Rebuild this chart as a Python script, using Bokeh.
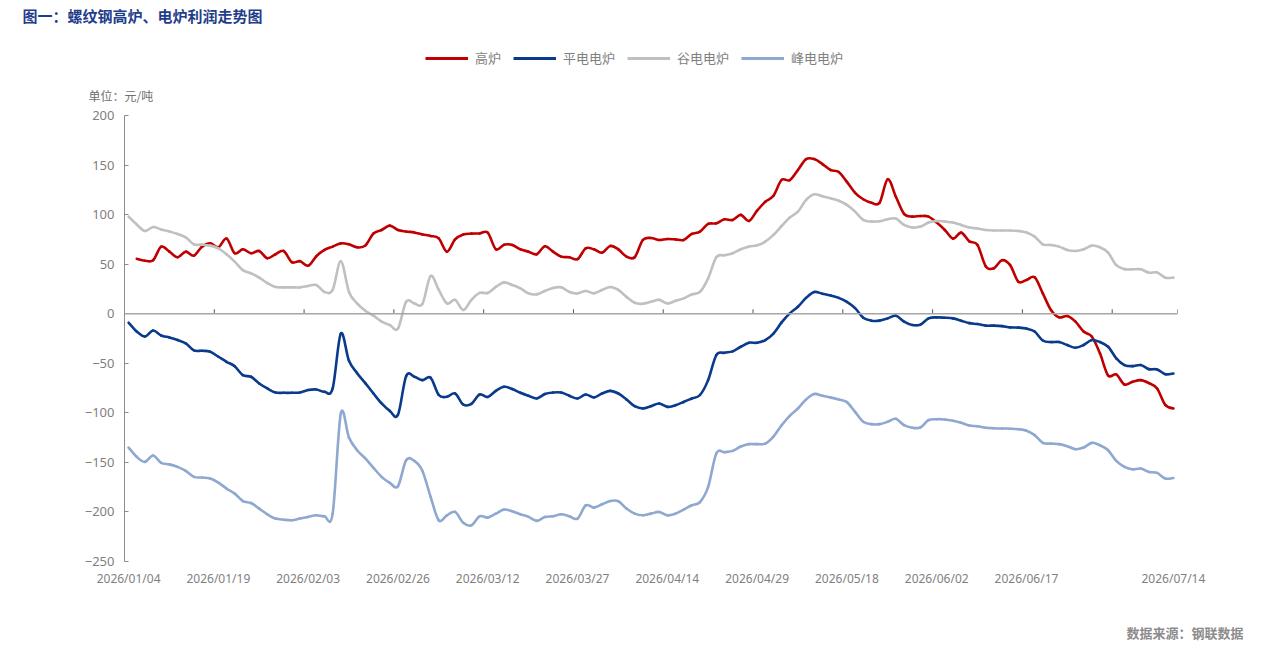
import numpy as np
import pandas as pd
from bokeh.plotting import figure
from bokeh.layouts import column
from bokeh.models import (ColumnDataSource, FixedTicker, Legend, LegendItem,
                          Range1d, Span, Title)
from bokeh.embed import file_html
from bokeh.resources import INLINE

nan = float("nan")

# Trading calendar: weekdays, minus public holidays, plus make-up working days
weekdays = pd.bdate_range("2026-01-04", "2026-07-14")
holidays = pd.to_datetime([
    "2026-02-16", "2026-02-17", "2026-02-18", "2026-02-19", "2026-02-20",
    "2026-02-23", "2026-04-06", "2026-05-01", "2026-05-04", "2026-05-05",
    "2026-06-19",
])
makeup_days = pd.to_datetime(["2026-01-04", "2026-02-28", "2026-05-09"])
days = weekdays.difference(holidays).union(makeup_days)
dates = [d.strftime("%Y/%m/%d") for d in days]

# Profit, yuan per tonne
blast_furnace = [
    nan, 55.5, 53.5, 54, 67.7, 62.6, 57, 62.6, 58.6, 67.7,
    71, 67, 75.8, 61, 65, 61, 63.3, 56, 60, 63.3,
    52, 53, 48.5, 58, 64.3, 67.7, 71, 70, 67, 68.7,
    81, 84.5, 88.9, 84.5, 83, 82, 80, 78.5, 76, 62.6,
    75, 80, 80.8, 81, 81.8, 65, 69.7, 69.4, 65, 62.6,
    60, 68, 62.6, 57.6, 57, 55, 66, 65, 61.6, 68.4,
    65, 57.6, 57, 74.4, 76.4, 74.4, 75.4, 75, 74.4, 80.5,
    82.8, 90.6, 91.2, 95.3, 94.6, 99.7, 93.6, 104, 113, 119,
    135, 134.7, 145, 156, 156, 151, 145, 143, 133, 122,
    115.5, 112, 112, 135.7, 118, 100.7, 98, 98.6, 98, 92,
    84.5, 75.8, 81.8, 73, 69.4, 48, 45.8, 54, 49, 32.3,
    34, 36.7, 20.5, 3.7, -3.7, -2.4, -8, -18, -23, -40,
    -62.3, -61.3, -71.4, -68.7, -67, -70, -75.4, -92, -95.6,
]
flat_eaf = [
    -9, -18, -23, -17, -22, -24, -26.6, -30, -37, -37.4,
    -38.4, -43.4, -48.5, -53, -62, -63.6, -70.4, -75.4, -79.5, -79.8,
    -79.8, -79.5, -77, -76.4, -78.8, -75.4, -20, -47.5, -60, -70,
    -80.5, -90.5, -98, -102, -63, -63.6, -67, -64.6, -82, -83.8,
    -80.5, -91.6, -91, -81.5, -84, -77.8, -73.7, -76, -79.8, -82.8,
    -85.5, -81, -79.5, -79.5, -82.8, -85.5, -81.5, -84.5, -80.5, -77.8,
    -80.5, -86.5, -93.3, -95.6, -93.3, -90.6, -94, -92.3, -89, -85.5,
    -82, -67, -41.7, -39.4, -38, -33.3, -29.3, -29.3, -26.6, -20,
    -8.8, 0.3, 7, 16, 21.9, 20.2, 18.5, 16, 12, 5.7,
    -4, -7, -7, -4.7, -2, -8, -11.4, -11, -4.7, -3.7,
    -4, -4.7, -7, -9.5, -10.4, -12, -12, -12.5, -13.8, -14,
    -15, -18, -27, -28.6, -28.6, -31.6, -34.3, -31.6, -26.6, -28.6,
    -33.3, -45, -51.8, -52.9, -51.8, -55.9, -56.2, -61, -60.3,
]
valley_eaf = [
    98, 90, 83.5, 87.5, 85, 83, 80.5, 77, 70, 69.7,
    68.7, 66, 60, 52.5, 44, 40.7, 36.4, 31, 27, 26.6,
    26.6, 26.6, 28, 29, 22, 24, 53, 22, 10.4, 3,
    -2, -8, -11.4, -15, 12, 10.4, 10, 38, 24, 10.4,
    14, 3.7, 14, 21, 21, 27, 31.6, 29, 25.6, 20.5,
    19.5, 23, 26, 26.6, 22, 20.5, 23, 20.5, 24, 27,
    24, 17, 11, 10, 12, 14, 10.4, 13, 15.5, 19.5,
    22, 35.7, 57, 59, 61, 65, 67.7, 69, 72.7, 79.5,
    88.5, 97, 103, 114.8, 120.5, 118.5, 116.5, 114, 109.8, 103,
    94.6, 93, 93.3, 95.3, 96, 89.6, 87, 87.9, 92, 93.6,
    93, 92, 89.6, 86.9, 86, 84.5, 84, 84, 84, 83.5,
    82, 77.8, 70, 69.4, 67.7, 64.3, 63.3, 65, 68.7, 67,
    61.6, 49, 45, 44.8, 44.8, 41.4, 41.7, 36.4, 36.4,
]
peak_eaf = [
    -135, -144.4, -149.5, -143, -150.5, -152, -154.5, -158.6, -164.6, -165.3,
    -166.3, -170.4, -176.4, -181.5, -189, -191, -196.6, -202.4, -206.7, -207.8,
    -208.4, -206.7, -205, -203.4, -204.4, -201.7, -100.7, -125, -137.7, -146,
    -155.5, -164.6, -170.7, -174, -147.8, -148.5, -158.6, -184.8, -208.4, -203.4,
    -200, -211, -213.5, -204.4, -205.7, -201.7, -197.6, -199.3, -202.4, -205,
    -209, -205, -204.4, -202.4, -204.4, -206.7, -193.3, -195.6, -192.3, -189,
    -189.2, -196.6, -201.7, -203.4, -201.7, -200, -203.4, -201.7, -197.6, -193.3,
    -190, -174.7, -141, -139.7, -138.4, -134, -131.6, -131.6, -131, -124,
    -112.5, -103, -95.6, -86.5, -81, -82.8, -84.5, -86.5, -89.2, -99,
    -109, -111.4, -111.4, -109, -106, -112.5, -115, -114.8, -107.4, -106.4,
    -106.7, -108, -110, -112.8, -113.5, -115, -115.5, -115.8, -116, -116.5,
    -118, -122.5, -130.3, -131, -131.6, -133.7, -136.7, -135, -130.3, -132.7,
    -137.7, -148.5, -154.5, -157, -156.2, -159.6, -160.6, -166.3, -165.7,
]

series = [
    ("高炉", blast_furnace, "#c00000"),
    ("平电电炉", flat_eaf, "#0a3a8c"),
    ("谷电电炉", valley_eaf, "#c0c0c0"),
    ("峰电电炉", peak_eaf, "#8ea8d0"),
]
y_ticks = [-250, -200, -150, -100, -50, 0, 50, 100, 150, 200]
label_step = 11

n = len(dates)
idx = np.arange(n, dtype=float)
# every 11th trading day is labelled, plus the last one
x_label_idx = [i for i in range(0, n, label_step) if i + label_step <= n - 1 - 7] + [n - 1]
# category boundaries carrying small ticks on the zero line
boundary_x = [k - 0.5 for k in range(label_step, n, label_step)] + [n - 0.5]


def smooth_segments(y, s=1 / 6):
    """Cubic Bezier pieces (Catmull-Rom style) joining consecutive points."""
    y = np.asarray(y, dtype=float)
    ok = ~np.isnan(y)
    seg = dict(x0=[], y0=[], x1=[], y1=[], cx0=[], cy0=[], cx1=[], cy1=[])
    for i in range(n - 1):
        if not (ok[i] and ok[i + 1]):
            continue
        a = i - 1 if i > 0 and ok[i - 1] else i
        b = i + 2 if i + 2 < n and ok[i + 2] else i + 1
        seg["x0"].append(idx[i]); seg["y0"].append(y[i])
        seg["x1"].append(idx[i + 1]); seg["y1"].append(y[i + 1])
        seg["cx0"].append(idx[i] + (idx[i + 1] - idx[a]) * s)
        seg["cy0"].append(y[i] + (y[i + 1] - y[a]) * s)
        seg["cx1"].append(idx[i + 1] - (idx[b] - idx[i]) * s)
        seg["cy1"].append(y[i + 1] - (y[b] - y[i]) * s)
    return ColumnDataSource(seg)


W = 1265
HEAD_H = 67
FOOT_H = 30
MAIN_H = 650 - HEAD_H - FOOT_H
FRAME_TOP, FRAME_H = 115, 446
L, R = 124, 88

TICK_FONT = "Noto Sans"
CJK = "Noto Sans CJK SC"


def strip(height):
    f = figure(width=W, height=height, x_range=Range1d(0, 1), y_range=Range1d(0, 1),
               x_axis_type=None, y_axis_type=None, output_backend="svg",
               toolbar_location=None, title=None,
               min_border_left=L, min_border_right=R, min_border_top=0,
               min_border_bottom=0)
    f.outline_line_color = None
    f.grid.visible = False
    return f


# ---- header strip: chart title and legend ----
head = strip(HEAD_H)
head.add_layout(Title(text="图一：螺纹钢高炉、电炉利润走势图", align="left",
                      offset=-102, standoff=4, text_font=CJK,
                      text_font_size="15px", text_font_style="bold",
                      text_color="#1f3d8a"), "above")

items = []
for name, _, color in series:
    key = head.line(x=[nan], y=[nan], line_color=color, line_width=3)
    items.append(LegendItem(label=name, renderers=[key]))
legend = Legend(
    items=items, orientation="horizontal", location=(425 - L, 0),
    border_line_color=None, background_fill_alpha=0,
    padding=0, margin=0, spacing=12, glyph_width=43, glyph_height=14,
    label_standoff=7, label_text_font=CJK, label_text_font_size="13px",
    label_text_color="#7f7f7f", label_height=14,
)
head.add_layout(legend)

# ---- main chart ----
p = figure(width=W, height=MAIN_H, x_range=(-0.5, n - 0.5), y_range=(-250, 200),
           output_backend="svg", toolbar_location=None, title=None,
           min_border_left=L, min_border_right=R,
           min_border_top=FRAME_TOP - HEAD_H,
           min_border_bottom=MAIN_H - (FRAME_TOP - HEAD_H) - FRAME_H)
p.outline_line_color = None
p.xgrid.visible = False
p.ygrid.visible = False

# unit note above the frame
p.add_layout(Title(text="单位：元/吨", align="left", offset=-36, standoff=24,
                   text_font=CJK, text_font_size="12px", text_color="#6e6e6e",
                   text_font_style="normal"), "above")

# y axis
p.yaxis.ticker = FixedTicker(ticks=y_ticks)
p.yaxis.major_label_overrides = {t: str(t).replace("-", "\u2212") for t in y_ticks}
p.yaxis.axis_line_color = "#8c8c8c"
p.yaxis.major_tick_line_color = "#8c8c8c"
p.yaxis.major_tick_in = 4
p.yaxis.major_tick_out = 0
p.yaxis.minor_tick_line_color = None
p.yaxis.major_label_text_font = TICK_FONT
p.yaxis.major_label_text_font_size = "13px"
p.yaxis.major_label_text_color = "#7f7f7f"
p.yaxis.major_label_standoff = 10

# x axis: date labels along the bottom, axis line drawn at zero
p.xaxis.ticker = FixedTicker(ticks=x_label_idx)
p.xaxis.major_label_overrides = {i: dates[i] for i in x_label_idx}
p.xaxis.axis_line_color = None
p.xaxis.major_tick_line_color = None
p.xaxis.major_tick_in = 0
p.xaxis.major_tick_out = 0
p.xaxis.minor_tick_line_color = None
p.xaxis.major_label_text_font = TICK_FONT
p.xaxis.major_label_text_font_size = "12px"
p.xaxis.major_label_text_color = "#7f7f7f"
p.xaxis.major_label_standoff = 8

p.add_layout(Span(location=0, dimension="width", line_color="#a6a6a6",
                  line_width=1.6))
p.segment(x0=boundary_x, y0=[0] * len(boundary_x), x1=boundary_x,
          y1=[4.5] * len(boundary_x), line_color="#555555", line_width=1)

for name, values, color in series:
    p.bezier("x0", "y0", "x1", "y1", "cx0", "cy0", "cx1", "cy1",
             source=smooth_segments(values), line_color=color,
             line_width=2.6, line_cap="round")

# ---- footer strip: data source ----
foot = strip(FOOT_H)
foot.add_layout(Title(text="数据来源：钢联数据", align="right", offset=-66,
                      standoff=0, text_font=CJK, text_font_size="13px",
                      text_font_style="bold", text_color="#8c8c8c"), "above")

layout = column(head, p, foot, spacing=0)
open("out.html", "w").write(file_html(layout, INLINE))
